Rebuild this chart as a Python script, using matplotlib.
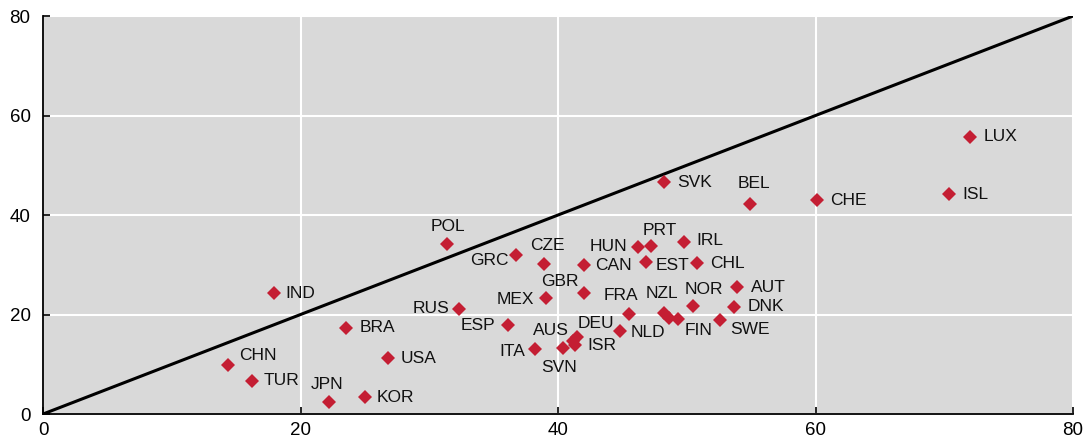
import matplotlib
matplotlib.use("Agg")
from matplotlib import pyplot as plt

# country codes and values
codes = ["IND", "CHN", "TUR", "JPN", "KOR", "BRA", "USA", "POL", "RUS", "GRC",
         "ESP", "CZE", "MEX", "GBR", "CAN", "ITA", "SVN", "AUS", "DEU", "ISR",
         "FRA", "NLD", "NZL", "", "FIN", "NOR", "AUT", "DNK", "SWE", "HUN",
         "PRT", "EST", "IRL", "CHL", "SVK", "BEL", "CHE", "ISL", "LUX"]
x_vals = [17.9, 14.4, 16.2, 22.2, 25.0, 23.5, 26.8, 31.4, 32.3, 36.7,
          36.1, 38.9, 39.1, 42.0, 42.0, 38.2, 40.4, 41.2, 41.5, 41.3,
          45.5, 44.8, 48.2, 48.6, 49.3, 50.5, 53.9, 53.7, 52.6, 46.2,
          47.2, 46.8, 49.8, 50.8, 48.2, 54.9, 60.1, 70.4, 72.0]
y_vals = [24.3, 9.8, 6.6, 2.4, 3.4, 17.3, 11.3, 34.2, 21.1, 32.0,
          17.9, 30.2, 23.3, 24.3, 29.9, 13.1, 13.2, 14.7, 15.4, 13.9,
          20.2, 16.6, 20.4, 19.2, 19.0, 21.7, 25.6, 21.6, 18.8, 33.6,
          33.8, 30.5, 34.6, 30.3, 46.7, 42.3, 43.0, 44.2, 55.6]

# label placement in pixels: (dx, dy, ha)
place = {
    "IND": (12, 0, "left"), "CHN": (11, 10, "left"), "TUR": (12, 1, "left"),
    "JPN": (-2, 18, "center"), "KOR": (12, 0, "left"), "BRA": (14, 0, "left"),
    "USA": (13, -1, "left"), "POL": (1, 17, "center"), "RUS": (-10, 1, "right"),
    "GRC": (-7, -6, "right"), "ESP": (-13, -1, "right"), "CZE": (3, 18, "center"),
    "MEX": (-12, -1, "right"), "GBR": (-5, 12, "right"), "CAN": (11, 0, "left"),
    "ITA": (-10, -3, "right"), "SVN": (-4, -19, "center"), "AUS": (-5, 10, "right"),
    "DEU": (0, 14, "left"), "ISR": (13, -1, "left"), "FRA": (-8, 18, "center"),
    "NLD": (11, -1, "left"), "NZL": (-2, 19, "center"), "": (0, 0, "left"),
    "FIN": (7, -11, "left"), "NOR": (11, 17, "center"), "AUT": (14, -1, "left"),
    "DNK": (13, 0, "left"), "SWE": (10, -9, "left"), "HUN": (-11, 0, "right"),
    "PRT": (9, 15, "center"), "EST": (10, -3, "left"), "IRL": (12, 1, "left"),
    "CHL": (13, 0, "left"), "SVK": (14, -1, "left"), "BEL": (4, 20, "center"),
    "CHE": (13, 0, "left"), "ISL": (13, 0, "left"), "LUX": (14, 1, "left"),
}

plt.rcParams["font.family"] = ["Liberation Sans", "DejaVu Sans"]

fig = plt.figure(figsize=(10.84, 4.42), dpi=100)
ax = fig.add_axes([0.0397, 0.0633, 0.9502, 0.9005])
ax.set_facecolor("#d9d9d9")

ax.plot([0, 80], [0, 80], color="black", lw=2.2, zorder=2)
ax.plot(x_vals, y_vals, linestyle="none", marker="D", markersize=7.5,
        color="#c41e33", markeredgewidth=0, zorder=3)

for c, xv, yv in zip(codes, x_vals, y_vals):
    if not c:
        continue
    dx, dy, ha = place[c]
    ax.annotate(c, (xv, yv), xytext=(dx, dy), textcoords="offset pixels",
                ha=ha, va="center", fontsize=12.5, color="#111111", zorder=4)

ax.set_xlim(0, 80)
ax.set_ylim(0, 80)
ax.set_xticks([0, 20, 40, 60, 80])
ax.set_yticks([0, 20, 40, 60, 80])
ax.grid(True, color="white", lw=1.5, zorder=1)
ax.set_axisbelow(True)
for s in ["top", "right"]:
    ax.spines[s].set_visible(False)
for s in ["left", "bottom"]:
    ax.spines[s].set_color("black")
    ax.spines[s].set_linewidth(1.3)
ax.tick_params(axis="both", direction="in", length=5, width=1.2,
               labelsize=13.5, colors="black")
ax.tick_params(axis="x", pad=6)
ax.tick_params(axis="y", pad=9)

fig.savefig("out.png", dpi=100)
